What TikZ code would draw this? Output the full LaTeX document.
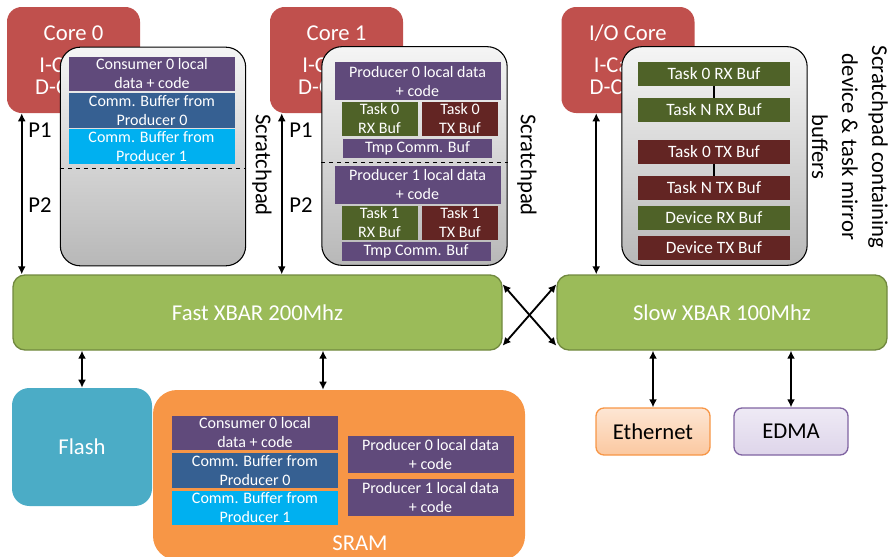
\documentclass[tikz,border=0pt]{standalone}
\usepackage{fontspec}
\setmainfont{Carlito}
\usepackage{tikz}
\usetikzlibrary{arrows.meta}

\definecolor{corered}{RGB}{192,80,77}
\definecolor{localpurple}{RGB}{96,74,123}
\definecolor{commblue}{RGB}{54,96,146}
\definecolor{commcyan}{RGB}{0,176,240}
\definecolor{rxgreen}{RGB}{79,98,40}
\definecolor{txred}{RGB}{99,37,35}
\definecolor{xbargreen}{RGB}{155,187,89}
\definecolor{xbarline}{RGB}{113,137,63}
\definecolor{flashblue}{RGB}{75,172,198}
\definecolor{sramorange}{RGB}{247,150,70}
\definecolor{ethtop}{RGB}{253,230,212}
\definecolor{ethbot}{RGB}{251,200,160}
\definecolor{edmatop}{RGB}{238,234,245}
\definecolor{edmabot}{RGB}{222,213,234}
\definecolor{edmaline}{RGB}{128,100,162}

\begin{document}
\begin{tikzpicture}[x=0.75pt,y=0.75pt,yscale=-1,xscale=1,
    core/.style={fill=corered, rounded corners=11pt, text=white, align=center, inner sep=0pt,
        font=\fontsize{17}{16.5}\selectfont, minimum width=99.75pt, minimum height=79.5pt},
    pad/.style={draw=black, line width=0.8pt, rounded corners=15pt, top color=black!4, bottom color=black!28,
        minimum width=139pt, minimum height=164pt},
    buf/.style={text=white, align=center, inner sep=0pt, font=\fontsize{12}{14.25}\selectfont},
    wide/.style={minimum width=124.5pt, minimum height=26pt},
    half/.style={minimum width=57pt, minimum height=25.5pt},
    slim/.style={minimum width=111.75pt, minimum height=14.25pt},
    mirror/.style={minimum width=114pt, minimum height=18pt, font=\fontsize{13}{15}\selectfont},
    xbar/.style={fill=xbargreen, draw=xbarline, line width=1pt, rounded corners=9pt, text=white,
        font=\fontsize{17}{20}\selectfont, minimum height=56.25pt},
    dev/.style={rounded corners=6pt, line width=1pt, font=\fontsize{17}{20}\selectfont,
        minimum width=85.5pt, minimum height=35.25pt},
    lbl/.style={font=\fontsize{17}{20}\selectfont},
    link/.style={{Latex[length=6pt,width=6pt]}-{Latex[length=6pt,width=6pt]}, line width=1.4pt}]
    \useasboundingbox (0,0) rectangle (894,557);

    % cores
    \node[core] (core0) at (73.5,60) {Core 0\\[7.5pt]I-Cache\\D-Cache};
    \node[core] (core1) at (336.5,60) {Core 1\\[7.5pt]I-Cache\\D-Cache};
    \node[core] (iocore) at (628,60) {I/O Core\\[7.5pt]I-Cache\\D-Cache};

    % scratchpads
    \node[pad] (pad0) at (153,156.5) {};
    \node[pad] (pad1) at (414.5,156) {};
    \node[pad] (pad2) at (714.5,156) {};

    \node[buf,wide,fill=localpurple] (c0local) at (152,74) {Consumer 0 local\\data + code};
    \node[buf,wide,fill=commblue] (c0comm0) at (152,110.5) {Comm. Buffer from\\Producer 0};
    \node[buf,wide,fill=commcyan] (c0comm1) at (151.5,146.5) {Comm. Buffer from\\Producer 1};
    \draw[dashed] (pad0.west |- 0,168) -- (pad0.east |- 0,168);

    \node[buf,wide,minimum height=28.5pt,fill=localpurple] (p0local) at (417.5,81) {Producer 0 local data\\+ code};
    \node[buf,half,fill=rxgreen] (t0rx) at (379.5,119) {Task 0\\RX Buf};
    \node[buf,half,fill=txred] (t0tx) at (460,119) {Task 0\\TX Buf};
    \node[buf,slim,fill=localpurple] (tmp0) at (417.5,148.5) {Tmp Comm. Buf};
    \draw[dashed] (pad1.west |- 0,162) -- (pad1.east |- 0,162);
    \node[buf,wide,minimum height=28.5pt,fill=localpurple] (p1local) at (417.5,184.5) {Producer 1 local data\\+ code};
    \node[buf,half,fill=rxgreen] (t1rx) at (379.5,222.5) {Task 1\\RX Buf};
    \node[buf,half,fill=txred] (t1tx) at (460,222.5) {Task 1\\TX Buf};
    \node[buf,slim,fill=localpurple] (tmp1) at (416,251.5) {Tmp Comm. Buf};

    \node[buf,mirror,fill=rxgreen] (rx0) at (714,74) {Task 0 RX Buf};
    \node[buf,mirror,fill=rxgreen] (rxn) at (714,110) {Task N RX Buf};
    \node[buf,mirror,fill=txred] (tx0) at (714,152) {Task 0 TX Buf};
    \node[buf,mirror,fill=txred] (txn) at (714,188) {Task N TX Buf};
    \node[buf,mirror,fill=rxgreen] (devrx) at (714,218) {Device RX Buf};
    \node[buf,mirror,fill=txred] (devtx) at (714,248) {Device TX Buf};
    \draw[line width=1.2pt] (rx0) -- (rxn);
    \draw[line width=1.2pt] (tx0) -- (txn);

    \node[lbl,rotate=-90] (pad0lbl) at (262,165) {Scratchpad};
    \node[lbl,rotate=-90] (pad1lbl) at (527,165) {Scratchpad};
    \node[lbl,rotate=-90,align=center,font=\fontsize{17}{22.5}\selectfont] (pad2lbl) at (850,147)
        {Scratchpad containing\\device \& task mirror\\buffers};

    % crossbars and memories
    \node[xbar,minimum width=366.75pt] (fast) at (257.5,312.5) {Fast XBAR 200Mhz};
    \node[xbar,minimum width=247.5pt] (slow) at (722,312.5) {Slow XBAR 100Mhz};
    \node[fill=flashblue,rounded corners=13pt,text=white,lbl,minimum width=105pt,minimum height=88.5pt] (flash) at (82,447) {Flash};
    \node[fill=sramorange,rounded corners=18pt,minimum width=279pt,minimum height=127.5pt] (sram) at (339,475) {};
    \node[lbl,text=white] (sramlbl) at (360,543) {SRAM};

    \node[buf,wide,fill=localpurple] (s0local) at (255,433) {Consumer 0 local\\data + code};
    \node[buf,wide,fill=commblue] (s0comm0) at (255,470.5) {Comm. Buffer from\\Producer 0};
    \node[buf,wide,fill=commcyan] (s0comm1) at (255,508) {Comm. Buffer from\\Producer 1};
    \node[buf,wide,minimum height=27.75pt,fill=localpurple] (sp0local) at (430.5,454.5) {Producer 0 local data\\+ code};
    \node[buf,wide,minimum height=27.75pt,fill=localpurple] (sp1local) at (430.5,497.5) {Producer 1 local data\\+ code};

    \node[dev,draw=sramorange,top color=ethtop,bottom color=ethbot] (eth) at (653,431.5) {Ethernet};
    \node[dev,draw=edmaline,top color=edmatop,bottom color=edmabot] (edma) at (791,431.5) {EDMA};

    % ports
    \coordinate (c0port) at ([xshift=11.25pt]core0.south west);
    \coordinate (c1port) at ([xshift=9pt]core1.south west);
    \coordinate (ioport) at ([xshift=26.25pt]iocore.south west);
    \coordinate (sramport) at ([xshift=-12pt]sram.north);
    \draw[link] (c0port) -- (c0port |- fast.north);
    \draw[link] (c1port) -- (c1port |- fast.north);
    \draw[link] (ioport) -- (ioport |- slow.north);
    \node[lbl] (c0p1) at (40,130) {P1};
    \node[lbl] (c0p2) at (40,205) {P2};
    \node[lbl] (c1p1) at (301,130) {P1};
    \node[lbl] (c1p2) at (301,205) {P2};

    \draw[link] ([yshift=7.5pt]fast.north east) -- ([yshift=-3.75pt]slow.south west);
    \draw[link] ([yshift=-3.75pt]fast.south east) -- ([yshift=7.5pt]slow.north west);
    \draw[link] (flash.north |- fast.south) -- (flash.north);
    \draw[link] (sramport |- fast.south) -- (sramport);
    \draw[link] (eth.north |- slow.south) -- (eth.north);
    \draw[link] (edma.north |- slow.south) -- (edma.north);
\end{tikzpicture}
\end{document}
